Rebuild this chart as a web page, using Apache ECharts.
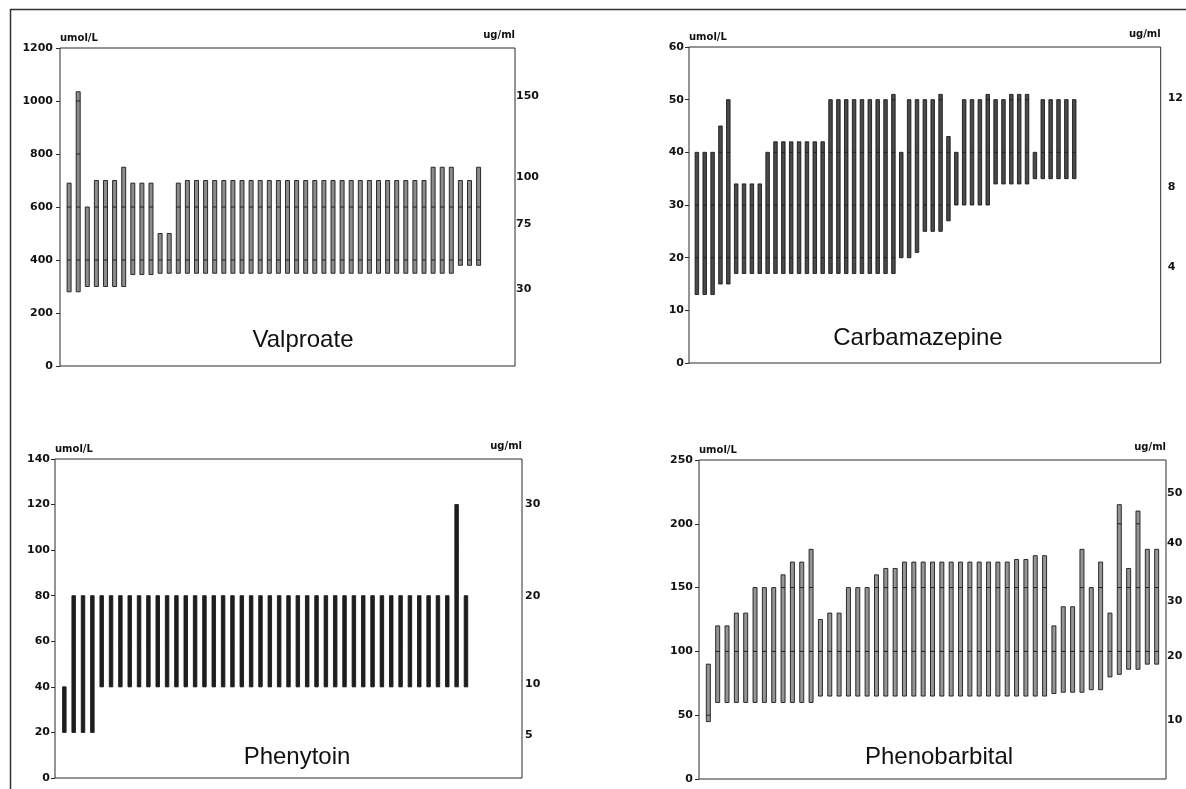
<!DOCTYPE html>
<html><head><meta charset="utf-8">
<script src="https://cdn.jsdelivr.net/npm/echarts@6/dist/echarts.min.js"></script>
<style>html,body{margin:0;padding:0;background:#fff}#c{width:1186px;height:789px}</style>
</head><body><div id="c"></div>
<script>
// ---------- data (umol/L) ----------
const valproateLow  = [280,280,300,300,300,300,300,345,345,345,350,350,350,
  350,350,350,350,350,350,350,350,350,350,350,350,350,350,350,350,350,350,350,350,350,350,350,350,350,350,350,350,350,350,
  380,380,380];
const valproateHigh = [690,1035,600,700,700,700,750,690,690,690,500,500,690,
  700,700,700,700,700,700,700,700,700,700,700,700,700,700,700,700,700,700,700,700,700,700,700,700,700,700,700,
  750,750,750,700,700,750];
const valproateRightValues = [1019,712,537,291];
const valproateRightLabels = ['150','100','75','30'];

const carbamazepineLow  = [13,13,13,15,15,
  17,17,17,17,17,17,17,17,17,17,17,17,17,17,17,17,17,17,17,17,17,
  20,20,21,25,25,25,27,30,30,30,30,30,34,34,34,34,34,35,35,35,35,35,35];
const carbamazepineHigh = [40,40,40,45,50,34,34,34,34,40,42,42,42,42,42,42,42,
  50,50,50,50,50,50,50,50,51,40,50,50,50,50,51,43,40,50,50,50,51,50,50,51,51,51,40,50,50,50,50,50];
const carbamazepineRightValues = [50.3,33.4,18.2];
const carbamazepineRightLabels = ['12','8','4'];

const phenytoinLow  = [20,20,20,20,
  40,40,40,40,40,40,40,40,40,40,40,40,40,40,40,40,40,40,40,40,40,40,40,40,40,40,40,40,40,40,40,40,40,40,40,40,40,40,40,40,40,40,40,
  60];
const phenytoinHigh = [40,80,80,80,
  80,80,80,80,80,80,80,80,80,80,80,80,80,80,80,80,80,80,80,80,80,80,80,80,80,80,80,80,80,80,80,80,80,80,80,80,80,80,
  120,80];
const phenytoinRightValues = [120,80,41,19];
const phenytoinRightLabels = ['30','20','10','5'];

const phenobarbitalLow  = [45,60,60,60,60,60,60,60,60,60,60,60,
  65,65,65,65,65,65,65,65,65,65,65,65,65,65,65,65,65,65,65,65,65,65,65,65,65,
  67,68,68,68,70,70,80,82,86,86,90,90];
const phenobarbitalHigh = [90,120,120,130,130,150,150,150,160,170,170,180,
  125,130,130,150,150,150,160,165,165,
  170,170,170,170,170,170,170,170,170,170,170,170,
  172,172,175,175,120,135,135,180,150,170,130,215,165,210,180,180];
const phenobarbitalRightValues = [224,185,139,96,46];
const phenobarbitalRightLabels = ['50','40','30','20','10'];

const titles = ['Valproate','Carbamazepine','Phenytoin','Phenobarbital'];
const leftUnit = 'umol/L', rightUnit = 'ug/ml';
const yMaxes = [1200,60,140,250];
const yIntervals = [200,10,20,50];
const xMaxes = [50,60,50,50];

// ---------- layout / style ----------
const panels = [
  {low:valproateLow, high:valproateHigh, rv:valproateRightValues, rl:valproateRightLabels,
   grid:{left:60,top:48,width:455,height:318}, fill:'#8c8c8c', bw:4, lm:7, rm:1, tx:303, ty:340},
  {low:carbamazepineLow, high:carbamazepineHigh, rv:carbamazepineRightValues, rl:carbamazepineRightLabels,
   grid:{left:689,top:47,width:474,height:316}, fill:'#4a4a4a', bw:3.5, lm:5, rm:7, tx:918, ty:338},
  {low:phenytoinLow, high:phenytoinHigh, rv:phenytoinRightValues, rl:phenytoinRightLabels,
   grid:{left:55,top:459,width:467,height:319}, fill:'#1e1e1e', bw:3.5, lm:5, rm:3, tx:297, ty:757},
  {low:phenobarbitalLow, high:phenobarbitalHigh, rv:phenobarbitalRightValues, rl:phenobarbitalRightLabels,
   grid:{left:699,top:460,width:467,height:319}, fill:'#959595', bw:4, lm:6, rm:1, tx:939, ty:757}
];

const labelFont = {fontFamily:'DejaVu Sans', fontWeight:'bold', fontSize:11, color:'#111'};
const unitFont  = {fontFamily:'DejaVu Sans', fontWeight:'bold', fontSize:10, color:'#111'};

const grids = [], xAxes = [], yAxes = [], series = [], graphics = [];
panels.forEach((p, i) => {
  grids.push(Object.assign({show:true, borderColor:'#2a2a2a', borderWidth:1, backgroundColor:'transparent'}, p.grid));
  xAxes.push({gridIndex:i, type:'value', min:0, max:xMaxes[i],
    axisLine:{show:false}, axisTick:{show:false}, axisLabel:{show:false}, splitLine:{show:false}});
  yAxes.push({gridIndex:i, type:'value', position:'left', min:0, max:yMaxes[i], interval:yIntervals[i],
    name:leftUnit, nameLocation:'end', nameGap:5,
    nameTextStyle:Object.assign({align:'left', verticalAlign:'bottom'}, unitFont),
    axisLine:{show:false}, axisTick:{show:true, length:4, inside:false, lineStyle:{color:'#2a2a2a'}},
    axisLabel:Object.assign({margin:p.lm, formatter:function(v){return String(v);}}, labelFont), splitLine:{show:false}});
  const rv = p.rv, rl = p.rl;
  yAxes.push({gridIndex:i, type:'value', position:'right', min:0, max:yMaxes[i],
    name:rightUnit, nameLocation:'end', nameGap:8,
    nameTextStyle:Object.assign({align:'right', verticalAlign:'bottom'}, unitFont),
    axisLine:{show:false}, axisTick:{show:false}, splitLine:{show:false},
    axisLabel:Object.assign({margin:p.rm, customValues:rv, showMinLabel:true, showMaxLabel:true,
      formatter:function(v){let b=0,d=1e9;rv.forEach((r,k)=>{const e=Math.abs(r-v);if(e<d){d=e;b=k;}});return rl[b];}}, labelFont)});
  const interval = yIntervals[i], fill = p.fill, bw = p.bw;
  series.push({type:'custom', xAxisIndex:i, yAxisIndex:2*i, clip:false,
    data:p.low.map((l, j) => [j + 1, l, p.high[j]]),
    renderItem:function(params, api){
      const x = api.value(0), lo = api.value(1), hi = api.value(2);
      const a = api.coord([x, lo]), b = api.coord([x, hi]);
      const children = [{type:'rect', shape:{x:a[0]-bw/2, y:b[1], width:bw, height:a[1]-b[1]},
        style:{fill:fill, stroke:'#1a1a1a', lineWidth:0.9}}];
      for (let t = interval; t < hi; t += interval) {
        if (t > lo) {
          const c = api.coord([x, t]);
          children.push({type:'line', shape:{x1:a[0]-bw/2, y1:c[1], x2:a[0]+bw/2, y2:c[1]},
            style:{stroke:'#222', lineWidth:1}});
        }
      }
      return {type:'group', children:children};
    }});
  graphics.push({type:'text', x:p.tx, y:p.ty, style:{text:titles[i], fontFamily:'Liberation Sans',
    fontSize:24, fill:'#111', align:'center', verticalAlign:'middle'}});
});
graphics.push({type:'line', shape:{x1:10, y1:9.5, x2:1186, y2:9.5}, style:{stroke:'#333', lineWidth:1.5}});
graphics.push({type:'line', shape:{x1:10.5, y1:9, x2:10.5, y2:789}, style:{stroke:'#333', lineWidth:1.5}});

const chart = echarts.init(document.getElementById('c'), null, {renderer:'canvas'});
chart.setOption({animation:false, backgroundColor:'#fff', grid:grids, xAxis:xAxes, yAxis:yAxes, series:series, graphic:graphics});
</script></body></html>
